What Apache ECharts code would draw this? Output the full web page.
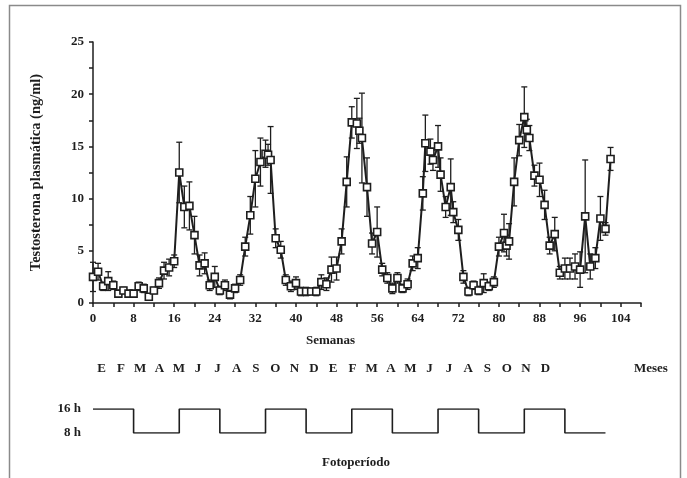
<!DOCTYPE html>
<html>
<head>
<meta charset="utf-8">
<script src="https://cdn.jsdelivr.net/npm/echarts@6/dist/echarts.min.js"></script>
<style>
  html, body { margin: 0; padding: 0; background: #fff; }
  #chart { width: 687px; height: 478px; }
</style>
</head>
<body>
<div id="chart"></div>
<script>
// Weekly plasma testosterone (mean ± SEM)
const weeks = [0, 1, 2, 3, 4, 5, 6, 7, 8, 9, 10, 11, 12, 13, 14, 15, 16, 17, 18, 19, 20,
  21, 22, 23, 24, 25, 26, 27, 28, 29, 30, 31, 32, 33, 34, 34.5, 35, 36, 37, 38, 39, 40,
  41, 42, 43, 44, 45, 46, 47, 48, 49, 50, 51, 52, 52.5, 53, 54, 55, 56, 57, 58, 59, 60,
  61, 62, 63, 64, 65, 65.5, 66.5, 67, 68, 68.5, 69.5, 70.5, 71, 72, 73, 74, 75, 76, 77,
  78, 79, 80, 81, 81.5, 82, 83, 84, 85, 85.5, 86, 87, 88, 89, 90, 91, 92, 93, 94, 95,
  96, 97, 98, 99, 100, 101, 102];
const testosterone = [2.5, 3.0, 1.6, 2.1, 1.7, 0.9, 1.2, 0.9, 0.9, 1.6, 1.4, 0.6, 1.2, 1.9, 3.1, 3.4, 4.0, 12.5, 9.2, 9.3, 6.5,
  3.6, 3.8, 1.7, 2.5, 1.2, 1.7, 0.8, 1.4, 2.2, 5.4, 8.4, 11.9, 13.5, 14.3, 14.2, 13.7, 6.2, 5.1, 2.2, 1.6, 1.9,
  1.1, 1.1, 1.1, 1.1, 2.0, 1.8, 3.2, 3.3, 5.9, 11.6, 17.3, 17.2, 16.5, 15.8, 11.1, 5.7, 6.8, 3.2, 2.4, 1.4, 2.4,
  1.4, 1.8, 3.8, 4.3, 10.5, 15.3, 14.5, 13.7, 15.0, 12.3, 9.2, 11.1, 8.7, 7.0, 2.5, 1.1, 1.7, 1.2, 1.9,
  1.6, 2.0, 5.4, 6.7, 5.5, 5.9, 11.6, 15.6, 17.8, 16.6, 15.8, 12.2, 11.8, 9.4, 5.5, 6.6, 2.9, 3.3, 3.3, 3.5,
  3.2, 8.3, 3.5, 4.3, 8.1, 7.1, 13.8];
const sem = [1.4, 0.8, 0.4, 0.9, 0.4, 0.3, 0.3, 0.3, 0.3, 0.4, 0.4, 0.3, 0.3, 0.5, 0.8, 0.8, 0.6, 2.9, 2.0, 2.3, 1.8,
  1.0, 1.0, 0.5, 1.0, 0.4, 0.5, 0.4, 0.4, 0.5, 0.9, 1.8, 2.7, 2.3, 1.3, 1.0, 3.2, 0.9, 0.8, 0.5, 0.5, 0.6,
  0.4, 0.4, 0.3, 0.4, 0.7, 0.6, 1.2, 1.1, 1.2, 2.4, 1.5, 2.4, 1.2, 4.3, 2.8, 1.0, 2.4, 0.6, 0.5, 0.5, 0.5,
  0.4, 0.5, 0.7, 1.0, 1.6, 2.7, 1.2, 1.0, 2.0, 1.6, 1.0, 2.7, 1.0, 1.0, 0.6, 0.4, 0.4, 0.4, 0.9,
  0.4, 0.5, 0.9, 1.8, 1.0, 1.7, 2.3, 1.5, 2.9, 1.0, 1.2, 1.0, 1.6, 1.4, 0.8, 1.6, 0.6, 1.0, 1.0, 1.2,
  1.7, 5.4, 1.2, 1.0, 2.1, 0.6, 1.1];

// Month initials (two years) and photoperiod schedule
const months = ['E', 'F', 'M', 'A', 'M', 'J', 'J', 'A', 'S', 'O', 'N', 'D',
                'E', 'F', 'M', 'A', 'M', 'J', 'J', 'A', 'S', 'O', 'N', 'D'];
const photoWeeks = [0, 8, 17, 25, 34, 42, 51, 59, 68, 76, 85, 93, 101];
const photoHours = [16, 8, 16, 8, 16, 8, 16, 8, 16, 8, 16, 8, 8];

const ink = '#1e1e1e';
const serif = '"Liberation Serif", "DejaVu Serif", serif';
const txt = { color: ink, fontFamily: serif, fontWeight: 'bold', fontSize: 13 };

const meanData = weeks.map((w, i) => [w, testosterone[i]]);
const errData = weeks.map((w, i) => [w, testosterone[i], sem[i]]);
const photoData = photoWeeks.map((w, i) => [w, photoHours[i]]);

const chart = echarts.init(document.getElementById('chart'), null, { renderer: 'canvas' });

chart.setOption({
  backgroundColor: '#fff',
  animation: false,
  grid: [
    { left: 93, right: 46, top: 42, height: 261 },
    { left: 93, right: 46, top: 409, height: 24 },
    { left: 92, width: 463, top: 369, height: 0 }
  ],
  xAxis: [
    {
      gridIndex: 0, type: 'value', min: 0, max: 108, interval: 4,
      axisLine: { lineStyle: { color: ink, width: 1.5 } },
      axisTick: { inside: false, length: 4, lineStyle: { color: ink, width: 1.5 } },
      axisLabel: Object.assign({ margin: 9, formatter: v => (v % 8 === 0 && v <= 104) ? String(v) : '' }, txt),
      splitLine: { show: false }
    },
    {
      gridIndex: 1, type: 'value', min: 0, max: 108, show: false
    },
    {
      gridIndex: 2, type: 'category', data: months, boundaryGap: true,
      axisLine: { show: false }, axisTick: { show: false },
      axisLabel: Object.assign({ margin: 0, verticalAlign: 'middle', interval: 0 }, txt),
      name: 'Meses', nameLocation: 'end', nameGap: 79,
      nameTextStyle: Object.assign({ verticalAlign: 'middle', align: 'left' }, txt)
    }
  ],
  yAxis: [
    {
      gridIndex: 0, type: 'value', min: 0, max: 25, interval: 2.5,
      axisLine: { show: true, lineStyle: { color: ink, width: 1.5 } },
      axisTick: { show: true, inside: false, length: 4, lineStyle: { color: ink, width: 1.5 } },
      axisLabel: Object.assign({ margin: 9, formatter: v => (v % 5 === 0) ? String(v) : '' }, txt),
      splitLine: { show: false },
      name: 'Testosterona plasmática (ng/ml)', nameLocation: 'middle', nameGap: 49, nameRotate: 90,
      nameTextStyle: Object.assign({}, txt, { fontSize: 14.5 })
    },
    {
      gridIndex: 1, type: 'value', min: 8, max: 16, interval: 8,
      axisLine: { show: false }, axisTick: { show: false }, splitLine: { show: false },
      axisLabel: Object.assign({ margin: 12, formatter: v => v + ' h' }, txt)
    },
    {
      gridIndex: 2, type: 'value', show: false, min: 0, max: 1
    }
  ],
  series: [
    {
      type: 'custom', xAxisIndex: 0, yAxisIndex: 0, data: errData, z: 2,
      encode: { x: 0, y: 1 },
      renderItem: function (params, api) {
        const x = api.value(0), y = api.value(1), e = api.value(2);
        const top = api.coord([x, y + e]);
        const bot = api.coord([x, Math.max(0, y - e)]);
        const cw = 3;
        const style = { stroke: ink, lineWidth: 1.3 };
        return {
          type: 'group',
          children: [
            { type: 'line', shape: { x1: top[0], y1: top[1], x2: bot[0], y2: bot[1] }, style: style },
            { type: 'line', shape: { x1: top[0] - cw, y1: top[1], x2: top[0] + cw, y2: top[1] }, style: style },
            { type: 'line', shape: { x1: bot[0] - cw, y1: bot[1], x2: bot[0] + cw, y2: bot[1] }, style: style }
          ]
        };
      }
    },
    {
      type: 'line', xAxisIndex: 0, yAxisIndex: 0, data: meanData, z: 3,
      symbol: 'rect', symbolSize: 7,
      lineStyle: { color: ink, width: 2 },
      itemStyle: { color: '#fff', borderColor: ink, borderWidth: 1.6 }
    },
    {
      type: 'line', xAxisIndex: 1, yAxisIndex: 1, data: photoData, step: 'end',
      symbol: 'none', lineStyle: { color: ink, width: 1.6 }
    }
  ],
  graphic: [
    {
      type: 'rect', silent: true, z: 0,
      shape: { x: 9.5, y: 5.5, width: 671, height: 490 },
      style: { fill: 'none', stroke: '#8a8a8a', lineWidth: 1.5 }
    },
    {
      type: 'text', left: 306, top: 334,
      style: Object.assign({ text: 'Semanas', fill: ink, font: 'bold 13px ' + serif })
    },
    {
      type: 'text', left: 322, top: 456,
      style: Object.assign({ text: 'Fotoperíodo', fill: ink, font: 'bold 13px ' + serif })
    }
  ]
});
</script>
</body>
</html>
